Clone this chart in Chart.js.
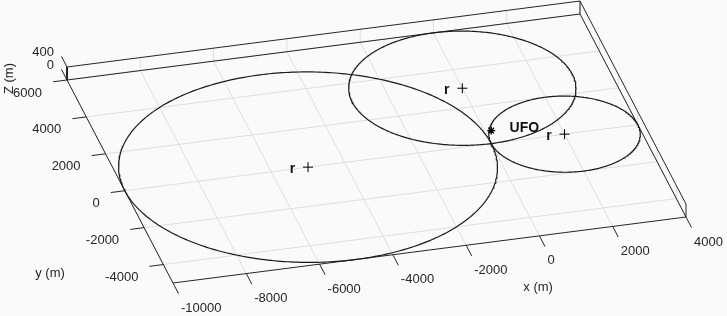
<!DOCTYPE html>
<html lang="en">

<head>
    <meta charset="UTF-8">
    <title>UFO position from three ranges</title>
    <script src="https://cdn.jsdelivr.net/npm/chart.js@4.4.0/dist/chart.umd.min.js"></script>
    <style>
        body { margin: 0; background: #fafafa; }
        canvas { display: block; }
    </style>
</head>

<body>
    <canvas id="chart" width="727" height="316"></canvas>
    <script>
        // axis limits and ticks (metres)
        const xLim = [-10000, 4000];
        const yLim = [-5000, 6000];
        const zLim = [0, 400];
        const xTicks = [-10000, -8000, -6000, -4000, -2000, 0, 2000, 4000];
        const yTicks = [-4000, -2000, 0, 2000, 4000, 6000];
        const zTicks = [0, 400];
        const xTickLabels = ['-10000', '-8000', '-6000', '-4000', '-2000', '0', '2000', '4000'];
        const yTickLabels = ['-4000', '-2000', '0', '2000', '4000', '6000'];
        const zTickLabels = ['0', '400'];

        // range circles: centre x, centre y, radius r
        const circleX = [-5000, 0, 2000];
        const circleY = [0, 3000, 0];
        const circleR = [5000, 3000, 2000];

        // UFO position (x, y, z)
        const ufoX = 0;
        const ufoY = 0;
        const ufoZ = 400;

        const W = 727, H = 316;

        // orthographic view: screen position of the front-left floor corner
        // and screen step per metre along each axis
        const origin = [173, 283];
        const ex = [513 / 14000, -66 / 14000];
        const ey = [-106 / 11000, -203 / 11000];
        const ez = [0, -13 / 400];

        function proj(x, y, z) {
            const dx = x - xLim[0], dy = y - yLim[0];
            return {
                x: origin[0] + dx * ex[0] + dy * ey[0] + z * ez[0],
                y: origin[1] + dx * ex[1] + dy * ey[1] + z * ez[1]
            };
        }

        const GAP = { x: null, y: null };

        function segments(list) {
            let pts = [];
            list.forEach(s => {
                pts.push(proj(s[0], s[1], s[2]));
                pts.push(proj(s[3], s[4], s[5]));
                pts.push(GAP);
            });
            return pts;
        }

        function offsetSegments(list, dir, len) {
            // short tick marks, direction given in screen units
            const n = Math.hypot(dir[0], dir[1]);
            let pts = [];
            list.forEach(p => {
                const a = proj(p[0], p[1], p[2]);
                pts.push(a);
                pts.push({ x: a.x + dir[0] / n * len, y: a.y + dir[1] / n * len });
                pts.push(GAP);
            });
            return pts;
        }

        const [x0, x1] = xLim, [y0, y1] = yLim, [z0, z1] = zLim;

        // grid on floor and on the two back walls
        let grid = [];
        xTicks.forEach(x => {
            grid.push([x, y0, z0, x, y1, z0]);
            grid.push([x, y1, z0, x, y1, z1]);
        });
        yTicks.forEach(y => {
            grid.push([x0, y, z0, x1, y, z0]);
            grid.push([x1, y, z0, x1, y, z1]);
        });

        const edges = [
            [x0, y1, z0, x1, y1, z0],
            [x0, y1, z1, x1, y1, z1],
            [x1, y0, z0, x1, y1, z0],
            [x1, y0, z1, x1, y1, z1],
            [x0, y0, z0, x1, y0, z0],
            [x0, y0, z0, x0, y1, z0],
            [x1, y1, z0, x1, y1, z1],
            [x1, y0, z0, x1, y0, z1]
        ];
        const zAxis = [[x0, y1, z0, x0, y1, z1]];

        let ticks = []
            .concat(offsetSegments(xTicks.map(x => [x, y0, z0]), [-ey[0], -ey[1]], 12))
            .concat(offsetSegments(yTicks.map(y => [x0, y, z0]), [-ex[0], -ex[1]], 14))
            .concat(offsetSegments(zTicks.map(z => [x0, y1, z]), [ey[0], ey[1]], 12));

        let circleSets = circleX.map((cx, i) => {
            let pts = [];
            for (let k = 0; k <= 360; k++) {
                const a = k * Math.PI / 180;
                pts.push(proj(cx + circleR[i] * Math.cos(a), circleY[i] + circleR[i] * Math.sin(a), 0));
            }
            return {
                data: pts, showLine: true, pointRadius: 0, borderColor: '#1a1a1a',
                borderWidth: 1.2, order: 3
            };
        });

        const lineSet = (pts, color, width, order) => ({
            data: pts, showLine: true, pointRadius: 0, borderColor: color,
            borderWidth: width, spanGaps: false, order: order
        });

        const textPlugin = {
            id: 'texts3d',
            afterDatasetsDraw(chart) {
                const ctx = chart.ctx;
                const sx = chart.scales.x, sy = chart.scales.y;
                const at = (x, y, z) => {
                    const p = proj(x, y, z);
                    return [sx.getPixelForValue(p.x), sy.getPixelForValue(p.y)];
                };
                ctx.save();
                ctx.fillStyle = '#262626';
                ctx.font = '13px "Liberation Sans", Arial, sans-serif';
                ctx.textBaseline = 'middle';

                ctx.textAlign = 'left';
                xTicks.forEach((x, i) => {
                    const [px, py] = at(x, y0, z0);
                    ctx.fillText(xTickLabels[i], px + 8, py + 25);
                });
                ctx.textAlign = 'right';
                yTicks.forEach((y, i) => {
                    const [px, py] = at(x0, y, z0);
                    ctx.fillText(yTickLabels[i], px - 25, py + 13);
                });
                zTicks.forEach((z, i) => {
                    const [px, py] = at(x0, y1, z);
                    ctx.fillText(zTickLabels[i], px - 13, py - 15);
                });

                // axis labels
                ctx.textAlign = 'center';
                let [lx, ly] = at((x0 + x1) / 2 + 4000, y0, z0);
                ctx.fillText('x (m)', lx - 38, ly + 56);
                [lx, ly] = at(x0, (y0 + y1) / 2, z0);
                ctx.fillText('y (m)', lx - 70, ly + 92);
                [lx, ly] = at(x0, y1, (z0 + z1) / 2);
                ctx.save();
                ctx.translate(lx - 58, ly + 5);
                ctx.rotate(-Math.PI / 2);
                ctx.fillText('Z (m)', 0, 0);
                ctx.restore();

                // annotations
                ctx.fillStyle = '#111';
                ctx.font = 'bold 14px "Liberation Sans", Arial, sans-serif';
                ctx.textAlign = 'left';
                circleX.forEach((cx, i) => {
                    const [px, py] = at(cx - 500, circleY[i], 0);
                    ctx.fillText('r', px, py);
                });
                const [ux, uy] = at(ufoX + 500, ufoY, ufoZ);
                ctx.fillText('UFO', ux, uy);
                ctx.restore();
            }
        };

        const ctx = document.getElementById('chart').getContext('2d');
        const myChart = new Chart(ctx, {
            type: 'scatter',
            data: {
                datasets: [
                    {
                        data: [proj(ufoX, ufoY, ufoZ)], pointStyle: 'star', pointRadius: 4,
                        borderColor: '#000', backgroundColor: '#000', borderWidth: 1.3, order: 1
                    },
                    {
                        data: circleX.map((cx, i) => proj(cx, circleY[i], 0)), pointStyle: 'cross',
                        pointRadius: 5, borderColor: '#000', borderWidth: 1, order: 1
                    },
                    ...circleSets,
                    lineSet(segments(zAxis), '#262626', 2, 4),
                    lineSet(ticks, '#262626', 1, 4),
                    lineSet(segments(edges), '#262626', 1, 4),
                    lineSet(segments(grid), '#dedede', 1, 5)
                ]
            },
            options: {
                responsive: false,
                animation: false,
                events: [],
                layout: { padding: 0, autoPadding: false },
                plugins: { legend: { display: false }, tooltip: { enabled: false } },
                scales: {
                    x: { type: 'linear', min: 0, max: W, display: false },
                    y: { type: 'linear', min: 0, max: H, reverse: true, display: false }
                }
            },
            plugins: [textPlugin]
        });
    </script>
</body>

</html>
